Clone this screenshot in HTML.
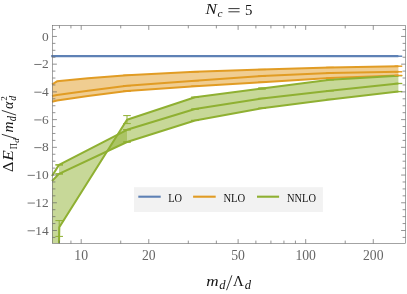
<!DOCTYPE html>
<html><head><meta charset="utf-8"><title>plot</title>
<style>
html,body{margin:0;padding:0;background:#fff;}
body{width:407px;height:294px;overflow:hidden;position:relative;font-family:"Liberation Serif",serif;}
</style></head><body>
<svg width="407" height="294" viewBox="0 0 407 294" style="position:absolute;left:0;top:0;will-change:transform;opacity:0.999">
<defs><clipPath id="c"><rect x="51" y="25.5" width="354.5" height="218"/></clipPath></defs>
<g clip-path="url(#c)">
<polygon points="52.00,84.50 57.00,81.30 88.00,78.20 127.00,75.30 195.00,71.80 262.00,69.50 330.00,67.40 398.40,66.20 398.40,75.40 330.00,78.00 262.00,82.20 195.00,86.20 127.00,91.10 88.00,96.10 57.00,100.60 52.00,101.80" fill="#f0cd91"/>
<polyline points="51.2,56.2 398.4,56.2" fill="none" stroke="#5e81b5" stroke-width="2.3"/>
<polyline points="52.00,84.50 57.00,81.30 88.00,78.20 127.00,75.30 195.00,71.80 262.00,69.50 330.00,67.40 398.40,66.20" fill="none" stroke="#e19c24" stroke-width="2.05" stroke-linejoin="round"/>
<polyline points="52.00,96.00 57.00,94.90 88.00,90.70 127.00,85.70 195.00,80.70 262.00,76.10 330.00,73.00 398.40,71.80" fill="none" stroke="#e19c24" stroke-width="2.05" stroke-linejoin="round"/>
<polyline points="52.00,101.80 57.00,100.60 88.00,96.10 127.00,91.10 195.00,86.20 262.00,82.20 330.00,78.00 398.40,75.40" fill="none" stroke="#e19c24" stroke-width="2.05" stroke-linejoin="round"/>
<polygon points="52.00,181.00 59.00,173.90 127.00,142.00 195.00,120.40 262.00,108.20 330.00,99.40 398.40,91.60 398.40,75.70 330.00,79.80 262.00,88.50 195.00,97.20 127.00,119.80 127.00,119.80 59.30,227.30 59.00,243.50 52.00,243.50" fill="#c7d898"/>
<polygon points="59.00,164.90 127.00,129.80 127.00,142.00 59.00,173.90" fill="#8fb032" fill-opacity="0.5"/>
<polyline points="59.00,243.50 59.30,227.30 127.00,119.80 195.00,97.20 262.00,88.50 330.00,79.80 398.40,75.70" fill="none" stroke="#8fb032" stroke-width="2.05" stroke-linejoin="round"/>
<polyline points="52.00,176.00 59.00,164.90 127.00,129.80 195.00,109.10 262.00,98.40 330.00,90.80 398.40,83.50" fill="none" stroke="#8fb032" stroke-width="2.05" stroke-linejoin="round"/>
<polyline points="52.00,181.00 59.00,173.90 127.00,142.00 195.00,120.40 262.00,108.20 330.00,99.40 398.40,91.60" fill="none" stroke="#8fb032" stroke-width="2.05" stroke-linejoin="round"/>
<path d="M59.2 220.6 V236.4 M55.4 220.6 H63 M55.4 236.4 H63" stroke="#8fb032" stroke-width="1" fill="none"/>
<path d="M127 115.6 V123.6 M123.2 115.6 H130.8 M123.2 123.6 H130.8" stroke="#8fb032" stroke-width="1" fill="none"/>
<path d="M59.2 164.7 V165.1 M55.4 164.7 H63 M55.4 165.1 H63" stroke="#8fb032" stroke-width="1" fill="none"/>
<path d="M59.2 173.7 V174.1 M55.4 173.7 H63 M55.4 174.1 H63" stroke="#8fb032" stroke-width="1" fill="none"/>
<path d="M127 129.6 V130 M123.2 129.6 H130.8 M123.2 130 H130.8" stroke="#8fb032" stroke-width="1" fill="none"/>
<path d="M127 141.8 V142.2 M123.2 141.8 H130.8 M123.2 142.2 H130.8" stroke="#8fb032" stroke-width="1" fill="none"/>
<path d="M262 87.9 V89.1 M258.2 87.9 H265.8 M258.2 89.1 H265.8" stroke="#8fb032" stroke-width="1" fill="none"/>
<path d="M195 97.05 V97.35 M191.2 97.05 H198.8 M191.2 97.35 H198.8" stroke="#8fb032" stroke-width="1" fill="none"/>
<path d="M262 88.35 V88.65 M258.2 88.35 H265.8 M258.2 88.65 H265.8" stroke="#8fb032" stroke-width="1" fill="none"/>
<path d="M330 79.65 V79.95 M326.2 79.65 H333.8 M326.2 79.95 H333.8" stroke="#8fb032" stroke-width="1" fill="none"/>
<path d="M398.4 75.55 V75.85 M394.6 75.55 H402.2 M394.6 75.85 H402.2" stroke="#8fb032" stroke-width="1" fill="none"/>
<path d="M195 108.95 V109.25 M191.2 108.95 H198.8 M191.2 109.25 H198.8" stroke="#8fb032" stroke-width="1" fill="none"/>
<path d="M262 98.25 V98.55 M258.2 98.25 H265.8 M258.2 98.55 H265.8" stroke="#8fb032" stroke-width="1" fill="none"/>
<path d="M330 90.65 V90.95 M326.2 90.65 H333.8 M326.2 90.95 H333.8" stroke="#8fb032" stroke-width="1" fill="none"/>
<path d="M398.4 83.35 V83.65 M394.6 83.35 H402.2 M394.6 83.65 H402.2" stroke="#8fb032" stroke-width="1" fill="none"/>
<path d="M195 120.25 V120.55 M191.2 120.25 H198.8 M191.2 120.55 H198.8" stroke="#8fb032" stroke-width="1" fill="none"/>
<path d="M262 108.05 V108.35 M258.2 108.05 H265.8 M258.2 108.35 H265.8" stroke="#8fb032" stroke-width="1" fill="none"/>
<path d="M330 99.25 V99.55 M326.2 99.25 H333.8 M326.2 99.55 H333.8" stroke="#8fb032" stroke-width="1" fill="none"/>
<path d="M398.4 91.45 V91.75 M394.6 91.45 H402.2 M394.6 91.75 H402.2" stroke="#8fb032" stroke-width="1" fill="none"/>
<path d="M127 75.15 V75.45 M123.2 75.15 H130.8 M123.2 75.45 H130.8" stroke="#e19c24" stroke-width="1" fill="none"/>
<path d="M195 71.65 V71.95 M191.2 71.65 H198.8 M191.2 71.95 H198.8" stroke="#e19c24" stroke-width="1" fill="none"/>
<path d="M262 69.35 V69.65 M258.2 69.35 H265.8 M258.2 69.65 H265.8" stroke="#e19c24" stroke-width="1" fill="none"/>
<path d="M330 67.25 V67.55 M326.2 67.25 H333.8 M326.2 67.55 H333.8" stroke="#e19c24" stroke-width="1" fill="none"/>
<path d="M398.4 66.05 V66.35 M394.6 66.05 H402.2 M394.6 66.35 H402.2" stroke="#e19c24" stroke-width="1" fill="none"/>
<path d="M127 85.55 V85.85 M123.2 85.55 H130.8 M123.2 85.85 H130.8" stroke="#e19c24" stroke-width="1" fill="none"/>
<path d="M195 80.55 V80.85 M191.2 80.55 H198.8 M191.2 80.85 H198.8" stroke="#e19c24" stroke-width="1" fill="none"/>
<path d="M262 75.95 V76.25 M258.2 75.95 H265.8 M258.2 76.25 H265.8" stroke="#e19c24" stroke-width="1" fill="none"/>
<path d="M330 72.85 V73.15 M326.2 72.85 H333.8 M326.2 73.15 H333.8" stroke="#e19c24" stroke-width="1" fill="none"/>
<path d="M398.4 71.65 V71.95 M394.6 71.65 H402.2 M394.6 71.95 H402.2" stroke="#e19c24" stroke-width="1" fill="none"/>
<path d="M127 90.95 V91.25 M123.2 90.95 H130.8 M123.2 91.25 H130.8" stroke="#e19c24" stroke-width="1" fill="none"/>
<path d="M195 86.05 V86.35 M191.2 86.05 H198.8 M191.2 86.35 H198.8" stroke="#e19c24" stroke-width="1" fill="none"/>
<path d="M262 82.05 V82.35 M258.2 82.05 H265.8 M258.2 82.35 H265.8" stroke="#e19c24" stroke-width="1" fill="none"/>
<path d="M330 77.85 V78.15 M326.2 77.85 H333.8 M326.2 78.15 H333.8" stroke="#e19c24" stroke-width="1" fill="none"/>
<path d="M398.4 75.25 V75.55 M394.6 75.25 H402.2 M394.6 75.55 H402.2" stroke="#e19c24" stroke-width="1" fill="none"/>
<path d="M59.2 56.05 V56.35 M55.4 56.05 H63 M55.4 56.35 H63" stroke="#5e81b5" stroke-width="1" fill="none"/>
<path d="M127 56.05 V56.35 M123.2 56.05 H130.8 M123.2 56.35 H130.8" stroke="#5e81b5" stroke-width="1" fill="none"/>
<path d="M195 56.05 V56.35 M191.2 56.05 H198.8 M191.2 56.35 H198.8" stroke="#5e81b5" stroke-width="1" fill="none"/>
<path d="M262 56.05 V56.35 M258.2 56.05 H265.8 M258.2 56.35 H265.8" stroke="#5e81b5" stroke-width="1" fill="none"/>
<path d="M330 56.05 V56.35 M326.2 56.05 H333.8 M326.2 56.35 H333.8" stroke="#5e81b5" stroke-width="1" fill="none"/>
<path d="M398.4 56.05 V56.35 M394.6 56.05 H402.2 M394.6 56.35 H402.2" stroke="#5e81b5" stroke-width="1" fill="none"/>
</g>
<rect x="52.5" y="25.5" width="353" height="218" fill="none" stroke="#666666" stroke-width="0.6"/>
<path d="M52.5 29.52 h2.9 M405.5 29.52 h-2.9 M52.5 36.45 h4.4 M405.5 36.45 h-4.4 M52.5 43.38 h2.9 M405.5 43.38 h-2.9 M52.5 50.31 h2.9 M405.5 50.31 h-2.9 M52.5 57.24 h2.9 M405.5 57.24 h-2.9 M52.5 64.17 h4.4 M405.5 64.17 h-4.4 M52.5 71.10 h2.9 M405.5 71.10 h-2.9 M52.5 78.03 h2.9 M405.5 78.03 h-2.9 M52.5 84.96 h2.9 M405.5 84.96 h-2.9 M52.5 91.89 h4.4 M405.5 91.89 h-4.4 M52.5 98.82 h2.9 M405.5 98.82 h-2.9 M52.5 105.75 h2.9 M405.5 105.75 h-2.9 M52.5 112.68 h2.9 M405.5 112.68 h-2.9 M52.5 119.61 h4.4 M405.5 119.61 h-4.4 M52.5 126.54 h2.9 M405.5 126.54 h-2.9 M52.5 133.47 h2.9 M405.5 133.47 h-2.9 M52.5 140.40 h2.9 M405.5 140.40 h-2.9 M52.5 147.33 h4.4 M405.5 147.33 h-4.4 M52.5 154.26 h2.9 M405.5 154.26 h-2.9 M52.5 161.19 h2.9 M405.5 161.19 h-2.9 M52.5 168.12 h2.9 M405.5 168.12 h-2.9 M52.5 175.05 h4.4 M405.5 175.05 h-4.4 M52.5 181.98 h2.9 M405.5 181.98 h-2.9 M52.5 188.91 h2.9 M405.5 188.91 h-2.9 M52.5 195.84 h2.9 M405.5 195.84 h-2.9 M52.5 202.77 h4.4 M405.5 202.77 h-4.4 M52.5 209.70 h2.9 M405.5 209.70 h-2.9 M52.5 216.63 h2.9 M405.5 216.63 h-2.9 M52.5 223.56 h2.9 M405.5 223.56 h-2.9 M52.5 230.49 h4.4 M405.5 230.49 h-4.4 M52.5 237.42 h2.9 M405.5 237.42 h-2.9 M81.20 243.5 v-4.4 M81.20 25.5 v4.4 M148.78 243.5 v-4.4 M148.78 25.5 v4.4 M238.12 243.5 v-4.4 M238.12 25.5 v4.4 M305.70 243.5 v-4.4 M305.70 25.5 v4.4 M373.28 243.5 v-4.4 M373.28 25.5 v4.4 M59.44 243.5 v-2.9 M59.44 25.5 v2.9 M70.93 243.5 v-2.9 M70.93 25.5 v2.9 M120.73 243.5 v-2.9 M120.73 25.5 v2.9 M188.31 243.5 v-2.9 M188.31 25.5 v2.9 M216.36 243.5 v-2.9 M216.36 25.5 v2.9 M255.89 243.5 v-2.9 M255.89 25.5 v2.9 M270.92 243.5 v-2.9 M270.92 25.5 v2.9 M283.94 243.5 v-2.9 M283.94 25.5 v2.9 M295.43 243.5 v-2.9 M295.43 25.5 v2.9 M345.23 243.5 v-2.9 M345.23 25.5 v2.9" stroke="#666666" stroke-width="0.7" fill="none"/>
<g font-family="Liberation Serif, serif" font-size="13.4" fill="#666666">
<text x="81.20" y="260.2" text-anchor="middle" font-size="13.7">10</text>
<text x="148.78" y="260.2" text-anchor="middle" font-size="13.7">20</text>
<text x="238.12" y="260.2" text-anchor="middle" font-size="13.7">50</text>
<text x="305.70" y="260.2" text-anchor="middle" font-size="13.7">100</text>
<text x="373.28" y="260.2" text-anchor="middle" font-size="13.7">200</text>
<text x="48.6" y="40.60" text-anchor="end">0</text>
<text x="48.6" y="68.32" text-anchor="end">2</text>
<text x="48.6" y="96.04" text-anchor="end">4</text>
<text x="48.6" y="123.76" text-anchor="end">6</text>
<text x="48.6" y="151.48" text-anchor="end">8</text>
<text x="48.6" y="179.20" text-anchor="end">10</text>
<text x="48.6" y="206.92" text-anchor="end">12</text>
<text x="48.6" y="234.64" text-anchor="end">14</text>
<path d="M41.60 64.47 h-7.3 M41.60 92.19 h-7.3 M41.60 119.91 h-7.3 M41.60 147.63 h-7.3 M34.90 175.35 h-7.3 M34.90 203.07 h-7.3 M34.90 230.79 h-7.3" stroke="#666666" stroke-width="0.9" fill="none"/>
</g>
<rect x="134" y="187.2" width="188.9" height="24.8" fill="#f2f2f2"/>
<path d="M138.3 196.7 H160.7" stroke="#5e81b5" stroke-width="2.1"/>
<path d="M193.1 196.7 H215.7" stroke="#e19c24" stroke-width="2.1"/>
<path d="M257 196.7 H279.1" stroke="#8fb032" stroke-width="2.1"/>
<g font-family="Liberation Serif, serif" font-size="11.8" fill="#111">
<text x="168.2" y="202.4" textLength="13.8" lengthAdjust="spacingAndGlyphs">LO</text>
<text x="223.4" y="202.4" textLength="21.8" lengthAdjust="spacingAndGlyphs">NLO</text>
<text x="287" y="202.4" textLength="28.9" lengthAdjust="spacingAndGlyphs">NNLO</text>
</g>
<g font-family="Liberation Serif, serif" fill="#141414" stroke="#141414">
<g stroke-width="0">
<text x="205.6" y="14.4" font-size="14.8" font-style="italic" textLength="11.4" lengthAdjust="spacingAndGlyphs">N</text>
<text x="217.6" y="17" font-size="11.4" font-style="italic">c</text>
<text x="244.9" y="14.5" font-size="14.8">5</text>
<path d="M228.4 8.6 H239.6 M228.4 11.8 H239.6" stroke-width="0.85" fill="none"/>
<text x="206.2" y="285.9" font-size="15.4" font-style="italic" textLength="12.4" lengthAdjust="spacingAndGlyphs">m</text>
<text x="219.3" y="288.9" font-size="12.2" font-style="italic" textLength="6.3" lengthAdjust="spacingAndGlyphs">d</text>
<path d="M226.5 290.2 L231.9 275.3" stroke-width="0.85" fill="none"/>
<text x="233" y="286" font-size="14.8">Λ</text>
<text x="244.7" y="288.9" font-size="12.2" font-style="italic" textLength="6.3" lengthAdjust="spacingAndGlyphs">d</text>
<g transform="translate(12.7,172.1) rotate(-90)">
<text x="0" y="0" font-size="14.8" textLength="10.4" lengthAdjust="spacingAndGlyphs">Δ</text>
<text x="11.3" y="0" font-size="14.8" font-style="italic" textLength="10.6" lengthAdjust="spacingAndGlyphs">E</text>
<text x="22.8" y="3.8" font-size="10.8" textLength="6.2" lengthAdjust="spacingAndGlyphs">Π</text>
<text x="29.3" y="6" font-size="9" font-style="italic">d</text>
<path d="M33.5 3.4 L37.8 -10.9 M57.0 3.4 L61.7 -10.9" stroke-width="0.85" fill="none"/>
<text x="39.6" y="0" font-size="15.2" font-style="italic" textLength="11" lengthAdjust="spacingAndGlyphs">m</text>
<text x="50.8" y="3.3" font-size="11.5" font-style="italic" textLength="5.2" lengthAdjust="spacingAndGlyphs">d</text>
<text x="63" y="0" font-size="15.2" font-style="italic" textLength="7.4" lengthAdjust="spacingAndGlyphs">α</text>
<text x="71.3" y="3.5" font-size="10.2" font-style="italic" textLength="4.9" lengthAdjust="spacingAndGlyphs">d</text>
<text x="71.3" y="-6" font-size="9">2</text>
</g>
</g></g>
</svg>
</body></html>
